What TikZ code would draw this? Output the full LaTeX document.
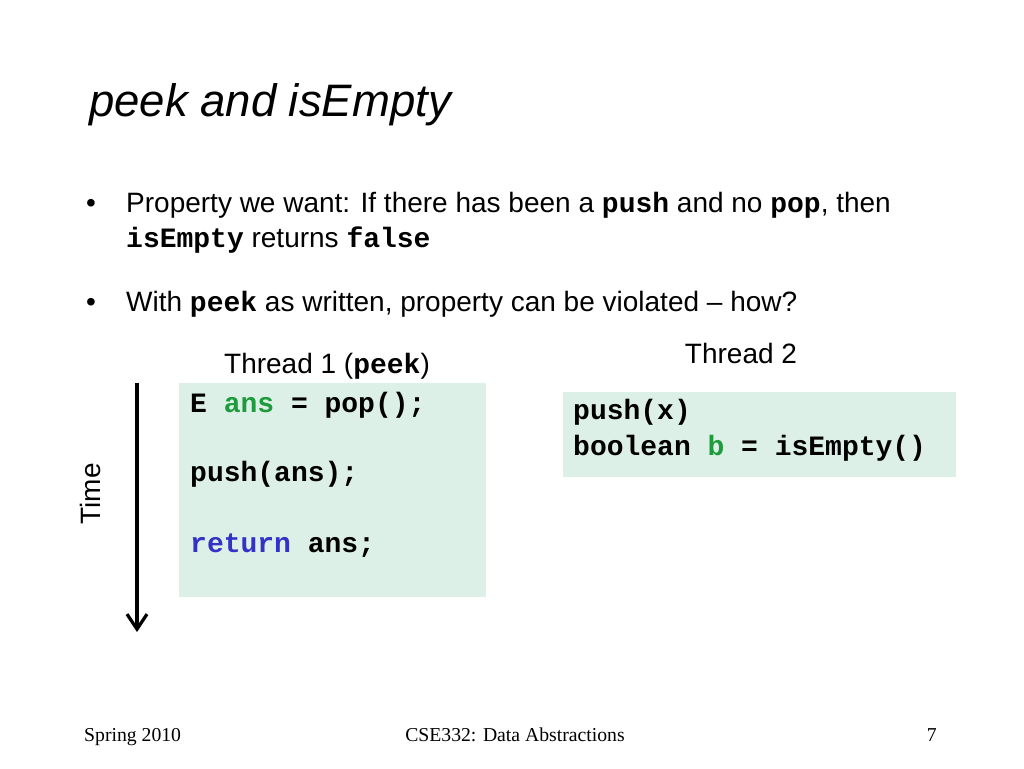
\documentclass[tikz,border=0pt]{standalone}
\usepackage{fontspec}
\setmainfont{Liberation Sans}
\setmonofont{Liberation Mono}
\newfontfamily\footfont{Liberation Serif}
\usetikzlibrary{arrows.meta}
\definecolor{boxfill}{RGB}{221,240,231}
\definecolor{codegreen}{RGB}{30,155,60}
\definecolor{codeblue}{RGB}{50,50,200}
\newcommand{\cd}[1]{{\ttfamily\bfseries #1}}
\begin{document}
\begin{tikzpicture}[x=1pt,y=-1pt,
  txt/.style={inner sep=0pt,anchor=base west,font=\fontsize{28}{34}\selectfont},
  code/.style={inner sep=0pt,anchor=base west,font=\fontsize{28}{34}\selectfont\ttfamily\bfseries},
  title/.style={inner sep=0pt,anchor=base west,font=\fontsize{45.5}{50}\selectfont\itshape},
  foot/.style={inner sep=0pt,anchor=base,font=\fontsize{19.7}{22}\selectfont\footfont},
  codebox/.style={fill=boxfill,draw=none,inner sep=0pt,anchor=north west},
  timearrow/.style={line width=3.2pt,-{Straight Barb[length=15pt,width=20pt,line width=3.2pt]}}
]
\useasboundingbox (0,0) rectangle (1024,768);
\node[title] (t) at (89,116) {peek and isEmpty};
\node[txt] (b1) at (86,212) {•};
\node[txt] (l1) at (126,212) {Property we want: If there has been a \cd{push} and no \cd{pop}, then};
\node[txt] (l2) at (126,247) {\cd{isEmpty} returns \cd{false}};
\node[txt] (b2) at (86,311) {•};
\node[txt] (l3) at (126,311) {With \cd{peek} as written, property can be violated – how?};
\node[txt,anchor=base] (th1) at (327,373) {Thread 1 (\cd{peek})};
\node[txt,anchor=base] (th2) at (741,363) {Thread 2};
\node[codebox,minimum width=307pt,minimum height=214pt] (box1) at (179,383) {};
\node[codebox,minimum width=393pt,minimum height=85pt] (box2) at (563,392) {};
\node[code] (c1) at (190,412) {E \textcolor{codegreen}{ans} = pop();};
\node[code] (c2) at (190,481) {push(ans);};
\node[code] (c3) at (190,552) {\textcolor{codeblue}{return} ans;};
\node[code] (d1) at (573,419) {push(x)};
\node[code] (d2) at (573,455) {boolean \textcolor{codegreen}{b} = isEmpty()};
\coordinate (ta) at (137,383);
\coordinate (tb) at (137,632);
\draw[timearrow] (ta) -- (tb);
\node[txt,rotate=90,anchor=center] (time) at (90,494) {Time};
\node[foot,anchor=base west] (f1) at (84,741) {Spring 2010};
\node[foot] (f2) at (515,741) {CSE332: Data Abstractions};
\node[foot,anchor=base east] (f3) at (937,741) {7};
\end{tikzpicture}
\end{document}
